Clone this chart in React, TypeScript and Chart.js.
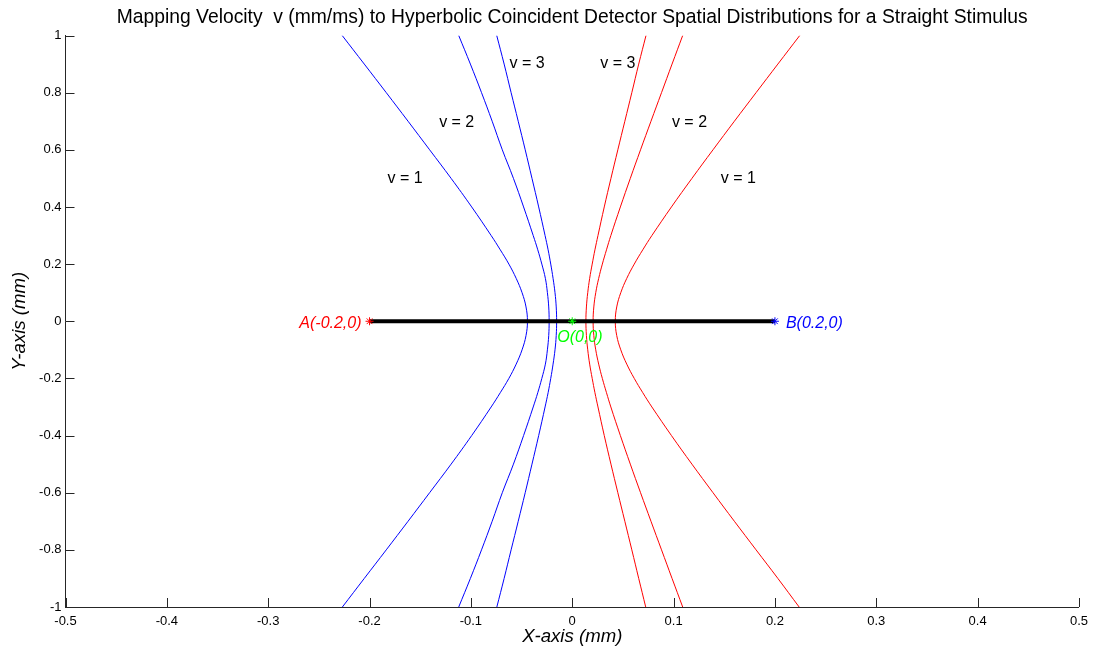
import React, { useEffect, useRef } from "react";
import { Chart, registerables } from "chart.js";

Chart.register(...registerables);

// ---- data ----
const yLevels = [1, 0.9, 0.8, 0.7, 0.6, 0.5, 0.4, 0.3, 0.25, 0.2, 0.15, 0.1, 0.05, 0, -0.05, -0.1, -0.15, -0.2, -0.25, -0.3, -0.4, -0.5, -0.6, -0.7, -0.8, -0.9, -1];

const blueV1 = [-0.227, -0.2052, -0.1835, -0.162, -0.1407, -0.1195, -0.0992, -0.080, -0.071, -0.0625, -0.0553, -0.0495, -0.0456, -0.0442, -0.0456, -0.0495, -0.0553, -0.0625, -0.071, -0.080, -0.0992, -0.1195, -0.1407, -0.162, -0.1835, -0.2052, -0.2268];
const blueV2 = [-0.112, -0.1005, -0.0895, -0.079, -0.069, -0.058, -0.048, -0.0385, -0.034, -0.030, -0.0265, -0.0245, -0.0232, -0.0228, -0.0232, -0.0245, -0.0265, -0.030, -0.034, -0.0385, -0.048, -0.058, -0.069, -0.079, -0.0895, -0.1005, -0.112];
const blueV3 = [-0.0745, -0.0672, -0.0603, -0.0533, -0.0464, -0.0397, -0.0331, -0.0268, -0.0238, -0.0212, -0.0189, -0.0170, -0.0158, -0.0154, -0.0158, -0.0170, -0.0189, -0.0212, -0.0238, -0.0268, -0.0331, -0.0397, -0.0464, -0.0533, -0.0603, -0.0672, -0.0744];
const redV3 = [0.0728, 0.0656, 0.0588, 0.0519, 0.0450, 0.0382, 0.0316, 0.0254, 0.0224, 0.0197, 0.0172, 0.0153, 0.0140, 0.0135, 0.0140, 0.0153, 0.0172, 0.0197, 0.0224, 0.0254, 0.0316, 0.0382, 0.0450, 0.0519, 0.0588, 0.0656, 0.0725];
const redV2 = [0.109, 0.0985, 0.0881, 0.0777, 0.0674, 0.0573, 0.0475, 0.0381, 0.0338, 0.0297, 0.0261, 0.0232, 0.0213, 0.0206, 0.0213, 0.0232, 0.0261, 0.0297, 0.0338, 0.0381, 0.0475, 0.0573, 0.0674, 0.0777, 0.0881, 0.0985, 0.109];
const redV1 = [0.2245, 0.2029, 0.1814, 0.160, 0.1389, 0.1181, 0.0979, 0.0786, 0.0696, 0.0612, 0.0538, 0.0479, 0.0439, 0.0425, 0.0439, 0.0479, 0.0538, 0.0612, 0.0696, 0.0786, 0.0979, 0.1181, 0.1389, 0.160, 0.1814, 0.2029, 0.2239];

const stimulusX = [-0.2, 0.2];
const stimulusY = [0, 0];

const pointNames = ["A(-0.2,0)", "B(0.2,0)", "O(0,0)"];
const pointX = [-0.2, 0.2, 0];
const pointY = [0, 0, 0];
const pointColors = ["#ff0000", "#0000ff", "#00ff00"];

const xTicks = [-0.5, -0.4, -0.3, -0.2, -0.1, 0, 0.1, 0.2, 0.3, 0.4, 0.5];
const yTicks = [-1, -0.8, -0.6, -0.4, -0.2, 0, 0.2, 0.4, 0.6, 0.8, 1];

const titleText = "Mapping Velocity  v (mm/ms) to Hyperbolic Coincident Detector Spatial Distributions for a Straight Stimulus";
const xTitle = "X-axis (mm)";
const yTitle = "Y-axis (mm)";

// velocity labels: text, anchor x, anchor y (data coords)
const vLabels = ["v = 1", "v = 2", "v = 3", "v = 3", "v = 2", "v = 1"];
const vLabelX = [-0.165, -0.114, -0.0445, 0.045, 0.1157, 0.164];
const vLabelY = [0.50, 0.695, 0.90, 0.90, 0.695, 0.50];

const FONT = '"Liberation Sans", Arial, Helvetica, sans-serif';
const AXIS = "#262626";

const toPts = (xs: number[], ys: number[]) => xs.map((x, i) => ({ x, y: ys[i] }));
const fmt = (v: number) => String(Number(v.toFixed(1)));

const overlay = {
  id: "overlay",
  afterDraw(chart: any) {
    const { ctx, chartArea, scales } = chart;
    const xs = scales.x;
    const ys = scales.y;
    ctx.save();
    // inward tick marks
    ctx.strokeStyle = AXIS;
    ctx.lineWidth = 1;
    xTicks.forEach((v) => {
      const px = Math.round(xs.getPixelForValue(v)) + 0.5;
      ctx.beginPath();
      ctx.moveTo(px, chartArea.bottom);
      ctx.lineTo(px, chartArea.bottom - 9);
      ctx.stroke();
    });
    yTicks.forEach((v) => {
      const py = Math.round(ys.getPixelForValue(v)) + 0.5;
      ctx.beginPath();
      ctx.moveTo(chartArea.left, py);
      ctx.lineTo(chartArea.left + 9, py);
      ctx.stroke();
    });

    const cx = (chartArea.left + chartArea.right) / 2;
    // title
    ctx.fillStyle = "#000";
    ctx.textAlign = "center";
    ctx.textBaseline = "middle";
    ctx.font = `19.3px ${FONT}`;
    ctx.fillText(titleText, cx, 18);

    // axis titles
    ctx.font = `italic 18.6px ${FONT}`;
    ctx.fillText(xTitle, cx, 637);
    ctx.save();
    ctx.translate(20, (chartArea.top + chartArea.bottom) / 2);
    ctx.rotate(-Math.PI / 2);
    ctx.fillText(yTitle, 0, 0);
    ctx.restore();

    // velocity labels
    ctx.font = `16px ${FONT}`;
    vLabels.forEach((t, i) => {
      ctx.fillText(t, xs.getPixelForValue(vLabelX[i]), ys.getPixelForValue(vLabelY[i]));
    });

    // point labels
    ctx.font = `italic 16px ${FONT}`;
    ctx.fillStyle = pointColors[0];
    ctx.textAlign = "right";
    ctx.fillText(pointNames[0], xs.getPixelForValue(pointX[0]) - 8, ys.getPixelForValue(pointY[0]) + 2);
    ctx.fillStyle = pointColors[1];
    ctx.textAlign = "left";
    ctx.fillText(pointNames[1], xs.getPixelForValue(pointX[1]) + 11, ys.getPixelForValue(pointY[1]) + 2);
    ctx.fillStyle = pointColors[2];
    ctx.textAlign = "left";
    ctx.fillText(pointNames[2], xs.getPixelForValue(pointX[2]) - 15, ys.getPixelForValue(pointY[2]) + 16);
    ctx.restore();
  },
};

export default function App() {
  const ref = useRef<HTMLCanvasElement | null>(null);
  useEffect(() => {
    document.body.style.margin = "0";
    const canvas = ref.current;
    if (!canvas) return;
    const curve = (xs: number[], color: string) => ({
      data: toPts(xs, yLevels),
      borderColor: color,
      backgroundColor: color,
      borderWidth: 1,
      pointRadius: 0,
      showLine: true,
      fill: false,
      tension: 0.4,
    });
    const markers = pointNames.map((_, i) => ({
      data: [{ x: pointX[i], y: pointY[i] }],
      borderColor: pointColors[i],
      backgroundColor: pointColors[i],
      pointStyle: "star",
      pointRadius: 4,
      pointBorderWidth: 1,
      showLine: false,
    }));
    const chart = new Chart(canvas, {
      type: "scatter",
      data: {
        datasets: [
          ...markers,
          {
            data: toPts(stimulusX, stimulusY),
            borderColor: "#000",
            backgroundColor: "#000",
            borderWidth: 4,
            pointRadius: 0,
            showLine: true,
          },
          curve(blueV1, "#0000ff"),
          curve(blueV2, "#0000ff"),
          curve(blueV3, "#0000ff"),
          curve(redV3, "#ff0000"),
          curve(redV2, "#ff0000"),
          curve(redV1, "#ff0000"),
        ] as any,
      },
      options: {
        animation: false,
        responsive: false,
        maintainAspectRatio: false,
        layout: { padding: { top: 35.5, right: 10, left: 0, bottom: 0 } },
        plugins: { legend: { display: false }, tooltip: { enabled: false }, title: { display: false } },
        scales: {
          x: {
            type: "linear",
            min: -0.5,
            max: 0.5,
            afterBuildTicks: (s: any) => {
              s.ticks = xTicks.map((v) => ({ value: v }));
            },
            afterFit: (s: any) => {
              s.height = 47;
            },
            ticks: {
              callback: (v: any) => fmt(Number(v)),
              font: { size: 13, family: FONT },
              color: "#000",
              padding: 7,
              maxRotation: 0,
              autoSkip: false,
            },
            grid: { display: false, drawTicks: false },
            border: { display: true, color: AXIS, width: 1 },
          },
          y: {
            type: "linear",
            min: -1,
            max: 1,
            afterBuildTicks: (s: any) => {
              s.ticks = yTicks.map((v) => ({ value: v }));
            },
            afterFit: (s: any) => {
              s.width = 65.5;
            },
            ticks: {
              callback: (v: any) => fmt(Number(v)),
              font: { size: 13, family: FONT },
              color: "#000",
              padding: 4,
              autoSkip: false,
            },
            grid: { display: false, drawTicks: false },
            border: { display: true, color: AXIS, width: 1 },
          },
        },
      } as any,
      plugins: [overlay],
    });
    return () => chart.destroy();
  }, []);
  return (
    <div style={{ position: "absolute", left: 0, top: 0, width: 1095, height: 654, background: "#fff" }}>
      <canvas ref={ref} width={1095} height={654} style={{ width: 1095, height: 654, display: "block" }} />
    </div>
  );
}
